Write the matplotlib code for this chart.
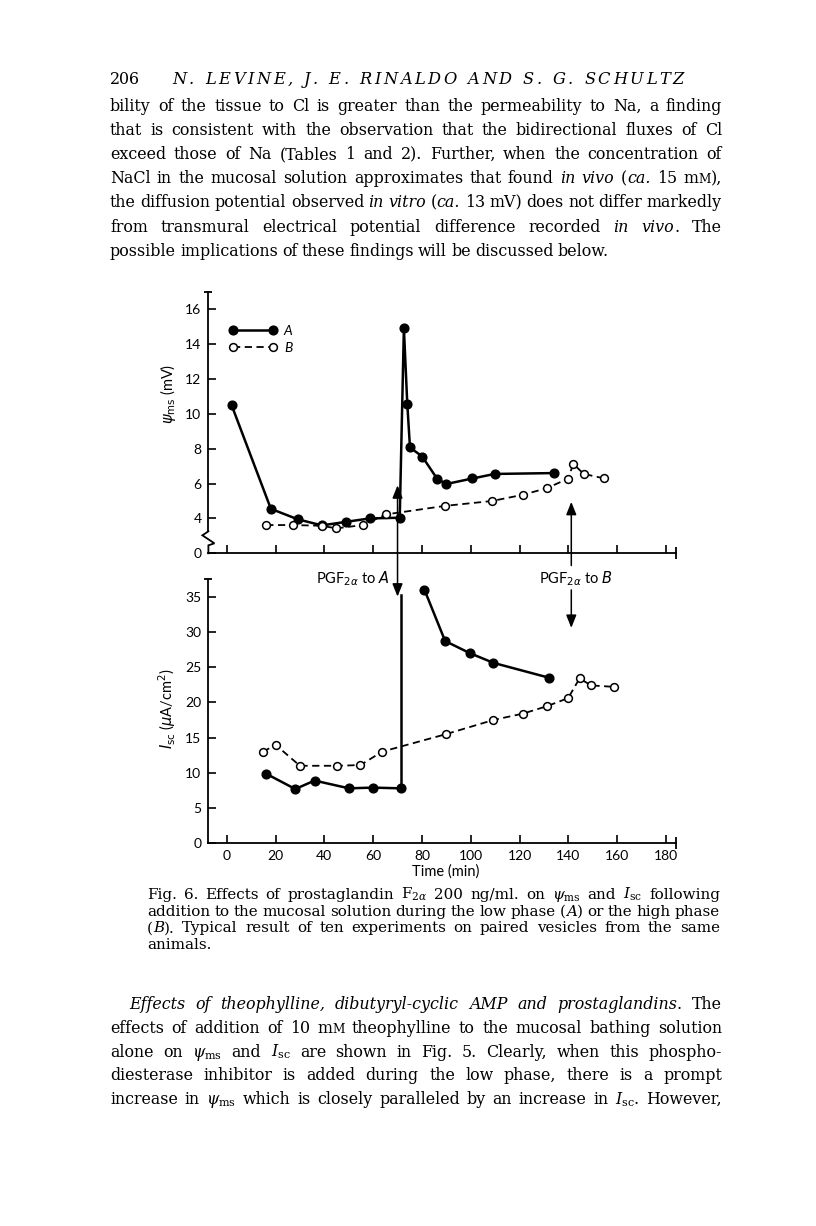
import re
import matplotlib
matplotlib.use("Agg")
import matplotlib.pyplot as plt
from matplotlib.patches import ConnectionPatch
from matplotlib.lines import Line2D
from matplotlib.transforms import IdentityTransform

plt.rcParams.update({
    "font.family": ["Lato", "DejaVu Sans"],
})

# ---------------- data ----------------
time_ticks = [0, 20, 40, 60, 80, 100, 120, 140, 160, 180]
time_tick_labels = ["0", "20", "40", "60", "80", "100", "120", "140", "160", "180"]

psi_tick_pos = [2, 4, 6, 8, 10, 12, 14, 16]          # axis is broken below 4
psi_tick_labels = ["0", "4", "6", "8", "10", "12", "14", "16"]
isc_ticks = [0, 5, 10, 15, 20, 25, 30, 35]

# psi_ms (mV), preparation A (filled)
t_psi_A = [2, 18.1, 29.1, 39, 48.7, 58.6, 70.9, 72.6, 74.0, 75.1, 80.1, 86.2, 89.9, 100.7, 109.8, 134]
psi_A = [10.5, 4.55, 3.95, 3.6, 3.8, 4.0, 4.04, 14.9, 10.55, 8.07, 7.55, 6.28, 5.97, 6.29, 6.55, 6.6]
# psi_ms (mV), preparation B (open)
t_psi_B = [16.2, 27, 38.9, 44.9, 55.8, 65.3, 89.5, 108.8, 121.5, 131.3, 139.7, 142.1, 146.3, 154.5]
psi_B = [3.62, 3.62, 3.58, 3.43, 3.62, 4.23, 4.72, 5.0, 5.36, 5.74, 6.27, 7.12, 6.55, 6.3]

# Isc (uA/cm2), preparation A before and after PGF2a
t_isc_A1 = [16, 28.1, 36, 50.1, 59.8, 71.3]
isc_A1 = [9.9, 7.7, 8.9, 7.8, 7.9, 7.8]
isc_A_jump_top = 35.2
t_isc_A2 = [81, 89.5, 99.5, 109.3, 132]
isc_A2 = [36.0, 28.7, 27.0, 25.6, 23.5]
# Isc, preparation B
t_isc_B = [14.8, 20.1, 30.0, 45.4, 54.8, 63.7, 90, 109.3, 121.4, 131.2, 139.9, 144.6, 149.3, 158.6]
isc_B = [13.0, 13.95, 11.0, 11.0, 11.1, 13.0, 15.5, 17.5, 18.4, 19.45, 20.6, 23.4, 22.4, 22.2]

arrow_A_t = 70.0
arrow_B_t = 141.2
label_A = r"PGF$_{2\alpha}$ to $A$"
label_B = r"PGF$_{2\alpha}$ to $B$"

header_num = "206"
header_names = "N. LEVINE, J. E. RINALDO AND S. G. SCHULTZ"
para1 = [
    "bility of the tissue to Cl is greater than the permeability to Na, a finding",
    "that is consistent with the observation that the bidirectional fluxes of Cl",
    "exceed those of Na (Tables 1 and 2). Further, when the concentration of",
    "NaCl in the mucosal solution approximates that found *in* *vivo* (*ca.* 15 m^M^),",
    "the diffusion potential observed *in* *vitro* (*ca.* 13 mV) does not differ markedly",
    "from transmural electrical potential difference recorded *in* *vivo*. The",
    "possible implications of these findings will be discussed below.",
]
caption = [
    r"Fig. 6. Effects of prostaglandin F$_{2\alpha}$ 200 ng/ml. on $\psi_\mathrm{ms}$ and $I_\mathrm{sc}$ following",
    "addition to the mucosal solution during the low phase (*A*) or the high phase",
    "(*B*). Typical result of ten experiments on paired vesicles from the same",
    "animals.",
]
para2 = [
    "*Effects* *of* *theophylline,* *dibutyryl-cyclic* *AMP* *and* *prostaglandins*. The",
    "effects of addition of 10 m^M^ theophylline to the mucosal bathing solution",
    r"alone on $\psi_\mathrm{ms}$ and $I_\mathrm{sc}$ are shown in Fig. 5. Clearly, when this phospho-",
    "diesterase inhibitor is added during the low phase, there is a prompt",
    r"increase in $\psi_\mathrm{ms}$ which is closely paralleled by an increase in $I_\mathrm{sc}$. However,",
]

# ---------------- figure ----------------
W, H = 816, 1226
fig = plt.figure(figsize=(W / 100, H / 100), dpi=100)


def px_axes(left, top, right, bottom):
    return [left / W, 1 - bottom / H, (right - left) / W, (bottom - top) / H]


X0, X1 = -7.5, 183.9
ax1 = fig.add_axes(px_axes(208.4, 291.7, 675.5, 553.3))
ax2 = fig.add_axes(px_axes(208.4, 579.0, 675.5, 843.3))

TICK_FS = 10
for ax in (ax1, ax2):
    ax.set_xlim(X0, X1)
    ax.patch.set_alpha(0)
    ax.spines[["top", "right"]].set_visible(False)
    for s in ("left", "bottom"):
        ax.spines[s].set_linewidth(1.3)
    ax.set_xticks(time_ticks)
    ax.tick_params(axis="both", direction="in", length=6, width=1.2,
                   labelsize=TICK_FS, pad=5)
    ax.plot([0], [1], marker="_", ms=6, mew=1.3, color="k",
            transform=ax.transAxes, clip_on=False)
    ax.plot([1], [0], marker="|", ms=9, mew=1.3, color="k",
            transform=ax.transAxes, clip_on=False)

A_style = dict(color="k", lw=1.8, marker="o", ms=6.3, mfc="k", mec="k", zorder=3)
B_style = dict(color="k", lw=1.3, dashes=(4, 2.5), marker="o", ms=5.6,
               mfc="white", mec="k", mew=1.1, zorder=4)

# ---- top panel (psi_ms) ----
ax1.set_ylim(2, 17)
ax1.set_yticks(psi_tick_pos)
ax1.set_yticklabels(psi_tick_labels)
ax1.set_xticklabels([])
ax1.spines["left"].set_bounds(3.26, 17)
dt = 1 / 2.4406
dv = 1 / 17.44
ax1.plot([X0, X0 - 6 * dt, X0 + 6 * dt, X0, X0],
         [3.26, 3.26 - 4 * dv, 3.26 - 12 * dv, 3.26 - 14 * dv, 2],
         color="k", lw=1.3, clip_on=False, solid_joinstyle="miter")

ax1.plot(t_psi_A, psi_A, **A_style)
ax1.plot(t_psi_B, psi_B, **B_style)

ax1.set_ylabel(r"$\psi_{\mathrm{ms}}$ (mV)", fontsize=10.5, math_fontfamily="dejavusans")
ax1.yaxis.set_label_coords(-0.065, 0.61)

hA = Line2D([], [], **A_style)
hB = Line2D([], [], **B_style)
ax1.legend([hA, hB], ["A", "B"], loc="upper left", bbox_to_anchor=(0.044, 0.872),
           numpoints=2, frameon=False, handlelength=3.5, handletextpad=0.45,
           labelspacing=0.35, borderpad=0, borderaxespad=0,
           prop=dict(family="Lato", style="italic", size=10))

# ---- bottom panel (Isc) ----
ax2.set_ylim(0, 37.5)
ax2.set_yticks(isc_ticks)
ax2.set_xticklabels(time_tick_labels)
ax2.plot(t_isc_A1, isc_A1, **A_style)
ax2.plot([t_isc_A1[-1], t_isc_A1[-1]], [isc_A1[-1], isc_A_jump_top], color="k", lw=1.8, zorder=3)
ax2.plot(t_isc_A2, isc_A2, **A_style)
ax2.plot(t_isc_B, isc_B, **B_style)

ax2.set_ylabel(r"$I_{\mathrm{sc}}$ ($\mu$A/cm$^2$)", fontsize=10.5, math_fontfamily="dejavusans")
ax2.yaxis.set_label_coords(-0.065, 0.51)
ax2.text(0.509, -0.105, "Time (min)", transform=ax2.transAxes, ha="center",
         va="center", fontsize=10.5)

# ---- arrows ----
head = "head_length=0.55,head_width=0.22"
con = ConnectionPatch(xyA=(arrow_A_t, 5.9), coordsA=ax1.transData,
                      xyB=(arrow_A_t, 35.0), coordsB=ax2.transData,
                      arrowstyle="<|-|>," + head, mutation_scale=14,
                      lw=1.1, color="k", shrinkA=0, shrinkB=0)
fig.add_artist(con)
ax1.annotate("", xy=(arrow_B_t, 4.95), xytext=(arrow_B_t, 1.3),
             arrowprops=dict(arrowstyle="-|>," + head, mutation_scale=14, lw=1.1,
                             color="k", shrinkA=0, shrinkB=0),
             annotation_clip=False)
ax2.annotate("", xy=(arrow_B_t, 30.56), xytext=(arrow_B_t, 35.95),
             arrowprops=dict(arrowstyle="-|>," + head, mutation_scale=14, lw=1.1,
                             color="k", shrinkA=0, shrinkB=0),
             annotation_clip=False)
ax2.annotate(label_A, xy=(arrow_A_t, 37.6), xytext=(-6, 0), textcoords="offset points",
             ha="right", va="center", fontsize=10.5, math_fontfamily="dejavusans",
             annotation_clip=False)
ax2.annotate(label_B, xy=(arrow_B_t, 37.6), xytext=(3, 0), textcoords="offset points",
             ha="center", va="center", fontsize=10.5, math_fontfamily="dejavusans",
             annotation_clip=False)

# ---------------- page text ----------------
renderer = fig.canvas.get_renderer()
SEG_RE = re.compile(r"\*[^*]+\*|\^[^^]+\^|[^*^]+")
FAMILY = "DejaVu Serif"
SPACE = 0.26   # natural inter-word space in em


def make_words(line, fs):
    word_parts = []
    for w in line.split(" "):
        parts = []
        for s in SEG_RE.findall(w):
            style, size = "normal", fs
            if s.startswith("*"):
                s, style = s[1:-1], "italic"
            elif s.startswith("^"):
                s, size = s[1:-1], fs * 0.76
            t = fig.text(0, 0, s, fontsize=size, family=FAMILY, style=style,
                         math_fontfamily="dejavuserif", transform=IdentityTransform(),
                         ha="left", va="baseline")
            parts.append(t)
        word_parts.append(parts)
    widths = [[p.get_window_extent(renderer).width for p in parts] for parts in word_parts]
    return word_parts, widths


def natural_width(line, fs):
    wp, ws = make_words(line, fs)
    for parts in wp:
        for p in parts:
            p.remove()
    em = fs * 100 / 72
    return sum(sum(w) for w in ws) + (len(ws) - 1) * SPACE * em


def fit_size(lines, spans, base=10.0):
    ratio = max(natural_width(l, base) / (x1 - x0) for l, (x0, x1) in zip(lines, spans))
    return base / ratio


def draw_line(line, x0, x1, y_base, fs, justify=True):
    word_parts, widths = make_words(line, fs)
    total = sum(sum(w) for w in widths)
    n = len(word_parts)
    em = fs * 100 / 72
    if justify and n > 1:
        gap = (x1 - x0 - total) / (n - 1)
    else:
        gap = SPACE * em
    x = x0
    yd = H - y_base
    for parts, ws in zip(word_parts, widths):
        for p, w in zip(parts, ws):
            p.set_position((x, yd))
            x += w
        x += gap


def draw_letterspaced(text, x0, x1, y_base, fs, style="italic"):
    """Letter-spaced running head: tracking chosen to fill [x0, x1]."""
    chars = list(text)
    arts = [fig.text(0, 0, c, fontsize=fs, family=FAMILY, style=style,
                     transform=IdentityTransform(), ha="left", va="baseline")
            for c in chars]
    em = fs * 100 / 72
    widths = []
    for c, a in zip(chars, arts):
        widths.append(0.0 if c == " " else a.get_window_extent(renderer).width)
    n_gaps = len(chars) - 1
    n_space = chars.count(" ")
    base = sum(widths) + n_space * 0.35 * em
    track = (x1 - x0 - base) / n_gaps
    x = x0
    yd = H - y_base
    for c, a, w in zip(chars, arts, widths):
        a.set_position((x, yd))
        x += w + track + (0.35 * em if c == " " else 0)


L, R = 110, 722
spans1 = [(L, R)] * (len(para1) - 1)
spans2 = [(129, R)] + [(L, R)] * (len(para2) - 1)
BODY_FS = min(fit_size(para1[:-1], spans1), fit_size(para2, spans2))
CAP_L, CAP_R = 147, 720
CAP_FS = fit_size(caption[:-1], [(CAP_L, CAP_R)] * (len(caption) - 1))

draw_line(header_num, 110, 140, 84, BODY_FS, justify=False)
draw_letterspaced(header_names, 172, 684, 84, BODY_FS * 1.02)
for i, line in enumerate(para1):
    draw_line(line, L, R, 111 + 24.1 * i, BODY_FS, justify=(i < len(para1) - 1))
for i, line in enumerate(caption):
    draw_line(line, CAP_L, CAP_R, 899 + 16.6 * i, CAP_FS, justify=(i < len(caption) - 1))
for i, line in enumerate(para2):
    x0 = spans2[i][0]
    draw_line(line, x0, R, 1009 + 23.8 * i, BODY_FS, justify=True)

fig.savefig("out.png", dpi=100)
